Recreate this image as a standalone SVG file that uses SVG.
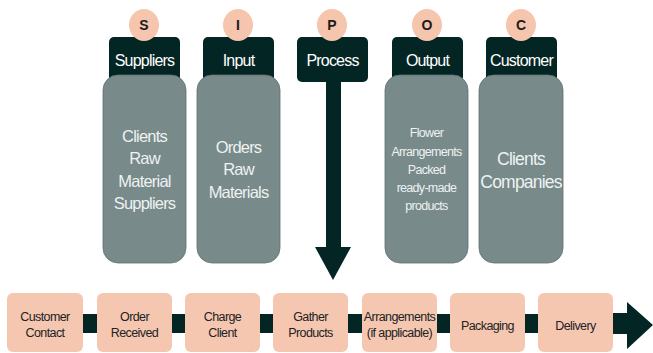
<svg xmlns="http://www.w3.org/2000/svg" width="653" height="353" viewBox="0 0 653 353">
<style>
.hd{fill:#032624}
.gb{fill:#788a8a;stroke:#5e7070;stroke-width:0.8}
.ci{fill:#f5c5ae}
.pc{fill:#f5c7b1}
.lt{font-family:"Liberation Sans",Arial,sans-serif;fill:#1c1c1c;font-weight:bold;font-size:14px;text-anchor:middle}
.ht{font-family:"Liberation Sans",Arial,sans-serif;fill:#ffffff;font-size:16px;letter-spacing:-0.8px;text-anchor:middle}
.bt{font-family:"Liberation Sans",Arial,sans-serif;fill:#eef2f2;font-size:16.5px;letter-spacing:-0.8px;text-anchor:middle}
.st{font-family:"Liberation Sans",Arial,sans-serif;fill:#eef2f2;font-size:12.5px;letter-spacing:-0.7px;text-anchor:middle}
.pt{font-family:"Liberation Sans",Arial,sans-serif;fill:#222222;font-size:12.5px;letter-spacing:-0.6px;text-anchor:middle}
</style>
<rect width="653" height="353" fill="#ffffff"/>

<g id="connectors">
  <rect class="hd" x="326" y="80" width="15" height="168"/>
  <polygon class="hd" points="315,247 351,247 333,280"/>
  <rect class="hd" x="83" y="314" width="14" height="19"/>
  <rect class="hd" x="172" y="314" width="13" height="19"/>
  <rect class="hd" x="260" y="314" width="13" height="19"/>
  <rect class="hd" x="348" y="314" width="14" height="19"/>
  <rect class="hd" x="437" y="314" width="13" height="19"/>
  <rect class="hd" x="525" y="314" width="13" height="19"/>
  <polygon class="hd" points="613,313 627,313 627,302 653,325 627,349 627,334 613,334"/>
</g>

<g id="suppliers">
  <rect class="hd" x="109" y="37" width="71" height="45" rx="5"/>
  <ellipse class="ci" cx="144" cy="25" rx="15" ry="16"/>
  <text class="lt" x="144" y="30">S</text>
  <text class="ht" x="144.5" y="66">Suppliers</text>
  <rect class="gb" x="103" y="75" width="83" height="188" rx="15"/>
  <text class="bt" x="144.5" y="142">Clients</text>
  <text class="bt" x="144.5" y="164">Raw</text>
  <text class="bt" x="144.5" y="187">Material</text>
  <text class="bt" x="144.5" y="209">Suppliers</text>
</g>

<g id="input">
  <rect class="hd" x="203" y="37" width="71" height="45" rx="5"/>
  <ellipse class="ci" cx="238" cy="25" rx="15" ry="16"/>
  <text class="lt" x="238" y="30">I</text>
  <text class="ht" x="238.5" y="66">Input</text>
  <rect class="gb" x="197" y="75" width="83" height="188" rx="15"/>
  <text class="bt" x="238.5" y="153">Orders</text>
  <text class="bt" x="238.5" y="175">Raw</text>
  <text class="bt" x="238.5" y="198">Materials</text>
</g>

<g id="process">
  <rect class="hd" x="297" y="37" width="71" height="45" rx="5"/>
  <ellipse class="ci" cx="332" cy="25" rx="15" ry="16"/>
  <text class="lt" x="332" y="30">P</text>
  <text class="ht" x="332.5" y="66">Process</text>
</g>

<g id="output">
  <rect class="hd" x="392" y="37" width="71" height="45" rx="5"/>
  <ellipse class="ci" cx="427" cy="25" rx="15" ry="16"/>
  <text class="lt" x="427" y="30">O</text>
  <text class="ht" x="427.5" y="66">Output</text>
  <rect class="gb" x="385" y="75" width="83" height="188" rx="15"/>
  <text class="st" x="426.5" y="137">Flower</text>
  <text class="st" x="426.5" y="156">Arrangements</text>
  <text class="st" x="426.5" y="174">Packed</text>
  <text class="st" x="426.5" y="192">ready-made</text>
  <text class="st" x="426.5" y="210">products</text>
</g>

<g id="customer">
  <rect class="hd" x="486" y="37" width="71" height="45" rx="5"/>
  <ellipse class="ci" cx="521" cy="25" rx="15" ry="16"/>
  <text class="lt" x="521" y="30">C</text>
  <text class="ht" x="521.5" y="66">Customer</text>
  <rect class="gb" x="479" y="75" width="84" height="188" rx="15"/>
  <text class="bt" x="521" y="165" style="font-size:17.5px">Clients</text>
  <text class="bt" x="521" y="188" style="font-size:17.5px">Companies</text>
</g>

<g id="step-customer-contact">
  <rect class="pc" x="7" y="293" width="76" height="59" rx="6"/>
  <text class="pt" x="45" y="321">Customer</text>
  <text class="pt" x="45" y="337">Contact</text>
</g>
<g id="step-order-received">
  <rect class="pc" x="97" y="293" width="75" height="59" rx="6"/>
  <text class="pt" x="134.5" y="321">Order</text>
  <text class="pt" x="134.5" y="337">Received</text>
</g>
<g id="step-charge-client">
  <rect class="pc" x="185" y="293" width="75" height="59" rx="6"/>
  <text class="pt" x="222.5" y="321">Charge</text>
  <text class="pt" x="222.5" y="337">Client</text>
</g>
<g id="step-gather-products">
  <rect class="pc" x="273" y="293" width="75" height="59" rx="6"/>
  <text class="pt" x="310.5" y="321">Gather</text>
  <text class="pt" x="310.5" y="337">Products</text>
</g>
<g id="step-arrangements">
  <rect class="pc" x="362" y="293" width="75" height="59" rx="6"/>
  <text class="pt" x="399.5" y="321">Arrangements</text>
  <text class="pt" x="399.5" y="337">(if applicable)</text>
</g>
<g id="step-packaging">
  <rect class="pc" x="450" y="293" width="75" height="59" rx="6"/>
  <text class="pt" x="487.5" y="330">Packaging</text>
</g>
<g id="step-delivery">
  <rect class="pc" x="538" y="293" width="75" height="59" rx="6"/>
  <text class="pt" x="575.5" y="330">Delivery</text>
</g>
</svg>
